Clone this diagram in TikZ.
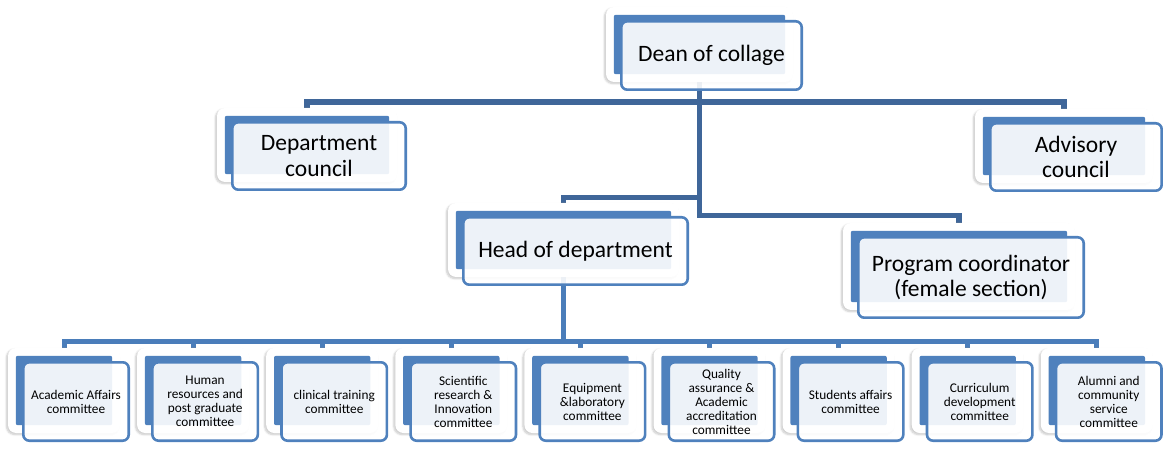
\documentclass[tikz,border=0pt]{standalone}
\usepackage{fontspec}
\setmainfont{Carlito}
\usetikzlibrary{shadows.blur,calc}
\definecolor{accent}{HTML}{4F81BD}
\definecolor{topline}{HTML}{3F6699}
\definecolor{botline}{HTML}{4A7DBA}
\pgfdeclarelayer{background}
\pgfsetlayers{background,main}
\tikzset{
 outerbox/.style={rectangle, fill=white, rounded corners=8pt, inner sep=0pt,
   blur shadow={shadow xshift=-1.5pt, shadow yshift=-1.5pt, shadow blur steps=6, shadow opacity=22}},
 innerbox/.style={rectangle, draw=accent, line width=2.6pt, fill=white, fill opacity=0.9, text opacity=1,
   rounded corners=6pt, inner sep=0pt, align=center},
 bigtext/.style={font=\fontsize{23.5}{25.5}\selectfont},
 smalltext/.style={font=\fontsize{13.3}{14}\selectfont},
 topconn/.style={draw=topline, line width=5.5pt},
 botconn/.style={draw=botline, line width=5pt},
}
\newcommand\orgbox[7]{%
 \node[outerbox, minimum width=#4pt, minimum height=#5pt] (#1) at (#2,#3) {};
 \fill[accent, rounded corners=2pt] ([shift={(8,8)}]#1.north west) rectangle ([shift={(-8,-8)}]#1.south east);
 \node[innerbox, #6, minimum width=#4pt-6.6pt, minimum height=#5pt-6.6pt] (#1-t) at ([shift={(12,11)}]#1.center) {#7};
}
\begin{document}
\begin{tikzpicture}[x=1pt,y=-1pt]
\useasboundingbox (0,0) rectangle (1163,449);
\orgbox{dean}{699.5}{44.5}{187}{75}{bigtext}{Dean of collage}
\orgbox{dept}{307}{145}{180}{74}{bigtext}{Department\\council}
\orgbox{adv}{1064}{146}{178}{74}{bigtext}{Advisory\\council}
\orgbox{head}{563.5}{240}{231}{74}{bigtext}{Head of department}
\orgbox{prog}{959}{266.5}{232}{87}{bigtext}{Program coordinator\\(female section)}
\orgbox{c0}{64}{390.5}{112}{85}{smalltext}{Academic Affairs\\committee}
\orgbox{c1}{193.1}{390.5}{112}{85}{smalltext}{Human\\resources and\\post graduate\\committee}
\orgbox{c2}{322.2}{390.5}{112}{85}{smalltext}{clinical training\\committee}
\orgbox{c3}{451.3}{390.5}{112}{85}{smalltext}{Scientific\\research \&\\Innovation\\committee}
\orgbox{c4}{580.4}{390.5}{112}{85}{smalltext}{Equipment\\\&laboratory\\committee}
\orgbox{c5}{709.5}{390.5}{112}{85}{smalltext}{Quality\\assurance \&\\Academic\\accreditation\\committee}
\orgbox{c6}{838.6}{390.5}{112}{85}{smalltext}{Students affairs\\committee}
\orgbox{c7}{967.7}{390.5}{112}{85}{smalltext}{Curriculum\\development\\committee}
\orgbox{c8}{1096.8}{390.5}{112}{85}{smalltext}{Alumni and\\community\\service\\committee}
\begin{pgfonlayer}{background}
\draw[topconn] (dept.north) -- ++(0,-6) -| (dean.south);
\draw[topconn] (adv.north) -- ++(0,-7) -| (dean.south);
\draw[topconn] (head.north) -- ++(0,-5.5) -| (dean.south);
\draw[topconn] (prog.north) -- ++(0,-7.5) -| (dean.south);
\foreach \i in {0,...,8}{
  \draw[botconn] (c\i.north) -- ++(0,-6) -| (head.south);
}
\end{pgfonlayer}
\end{tikzpicture}
\end{document}
